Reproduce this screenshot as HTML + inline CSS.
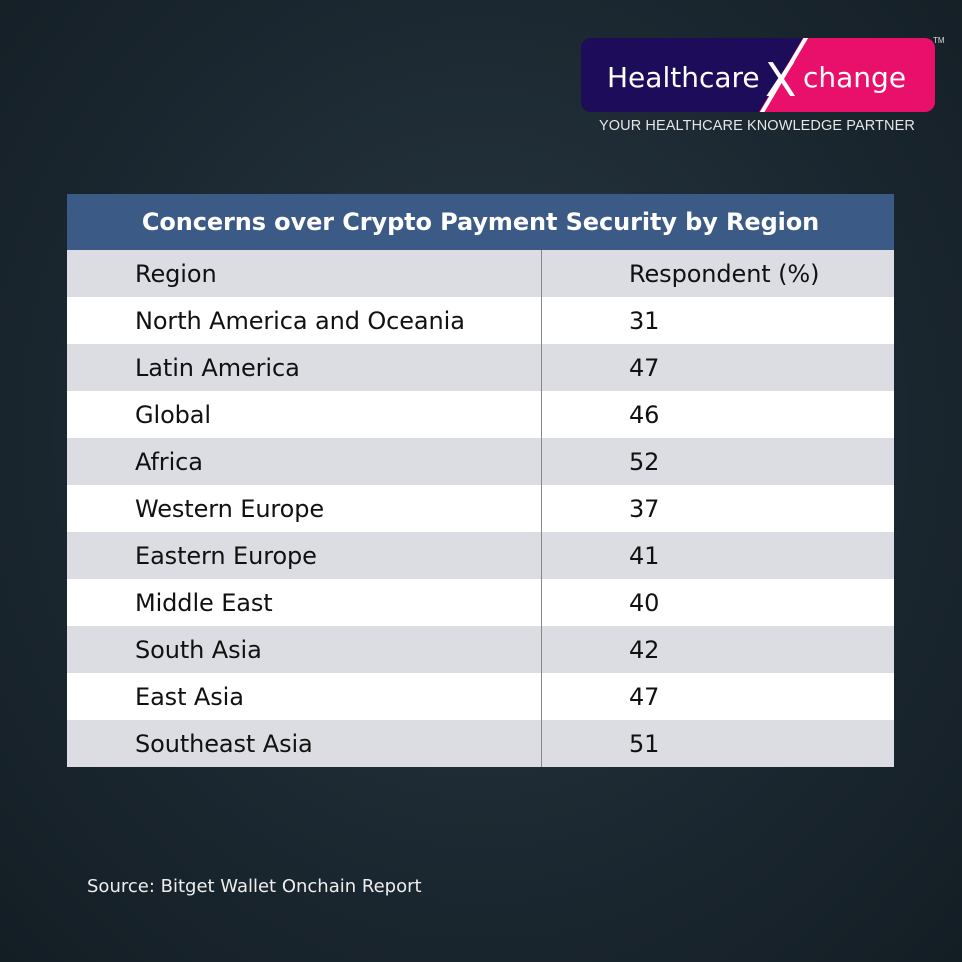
<!DOCTYPE html>
<html><head><meta charset="utf-8"><style>
body{margin:0;width:962px;height:962px;overflow:hidden;background:radial-gradient(ellipse at 50% 45%,#2a3943 0%,#1d2a33 50%,#131d24 100%);font-family:"Liberation Sans","DejaVu Sans",sans-serif;position:relative}
.logo{position:absolute;left:581px;top:38px;width:354px;height:74px;border-radius:10px;overflow:hidden;background:#1c0c5a}
.tm{position:absolute;left:933px;top:36px;color:#ddd;font-size:8px}
.tag{position:absolute;left:599px;top:118px;color:#e6e6e6;font-size:14.5px;letter-spacing:0.1px}
table{position:absolute;left:67px;top:194px;width:827px;border-collapse:collapse}
th{background:#3b5a85;color:#fff;font-family:"DejaVu Sans",sans-serif;font-weight:bold;font-size:24px;height:56px;padding:0;letter-spacing:-0.1px}
td{height:47px;padding:0;font-family:"DejaVu Sans",sans-serif;font-size:24px;color:#111;letter-spacing:-0.1px}
tr:nth-child(odd) td{background:#dcdde2}
tr:nth-child(even) td{background:#fff}
td.a{padding-left:68px;width:406px;border-right:1px solid #888}
td.b{padding-left:87px}
.src{position:absolute;left:87px;top:876px;color:#eee;font-family:"DejaVu Sans",sans-serif;font-size:18px}
</style></head><body>
<div class="logo">
<svg width="354" height="74" style="position:absolute;left:0;top:0">
<polygon points="222,0 354,0 354,74 178,74" fill="#e8106a"/>
<line x1="226" y1="-2" x2="180" y2="76" stroke="#fff" stroke-width="4"/>
<text x="26" y="49" fill="#fff" font-family="DejaVu Sans" font-size="28" font-weight="500">Healthcare</text>
<text x="184" y="58" fill="#fff" font-family="DejaVu Sans" font-size="46">X</text>
<text x="222" y="49" fill="#fff" font-family="DejaVu Sans" font-size="28">change</text>
</svg></div>
<div class="tm">TM</div>
<div class="tag">YOUR HEALTHCARE KNOWLEDGE PARTNER</div>
<table>
<thead><tr><th colspan="2">Concerns over Crypto Payment Security by Region</th></tr></thead>
<tbody>
<tr><td class="a">Region</td><td class="b">Respondent (%)</td></tr>
<tr><td class="a">North America and Oceania</td><td class="b">31</td></tr>
<tr><td class="a">Latin America</td><td class="b">47</td></tr>
<tr><td class="a">Global</td><td class="b">46</td></tr>
<tr><td class="a">Africa</td><td class="b">52</td></tr>
<tr><td class="a">Western Europe</td><td class="b">37</td></tr>
<tr><td class="a">Eastern Europe</td><td class="b">41</td></tr>
<tr><td class="a">Middle East</td><td class="b">40</td></tr>
<tr><td class="a">South Asia</td><td class="b">42</td></tr>
<tr><td class="a">East Asia</td><td class="b">47</td></tr>
<tr><td class="a">Southeast Asia</td><td class="b">51</td></tr>
</tbody></table>
<div class="src">Source: Bitget Wallet Onchain Report</div>
</body></html>
